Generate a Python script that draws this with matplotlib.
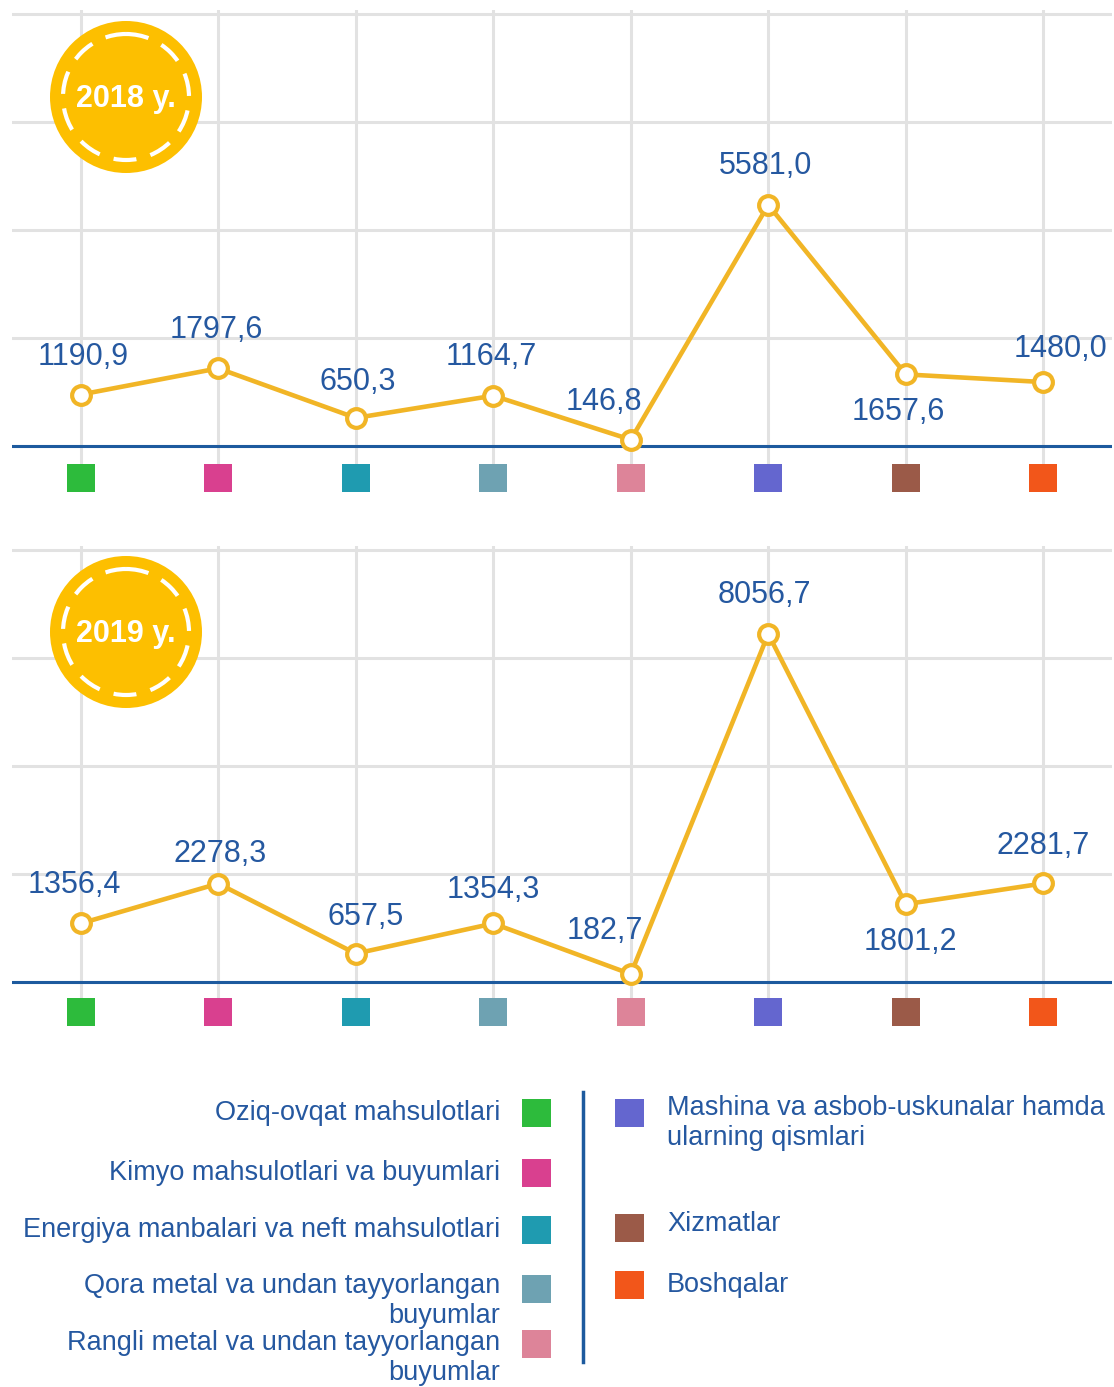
import matplotlib
matplotlib.use("Agg")
import matplotlib.pyplot as plt
from matplotlib.patches import Circle, Rectangle
from matplotlib.transforms import blended_transform_factory

plt.rcParams['font.family'] = ['Liberation Sans', 'DejaVu Sans']

# ---------------- data ----------------
categories = [
    "Oziq-ovqat mahsulotlari",
    "Kimyo mahsulotlari va buyumlari",
    "Energiya manbalari va neft mahsulotlari",
    "Qora metal va undan tayyorlangan\nbuyumlar",
    "Rangli metal va undan tayyorlangan\nbuyumlar",
    "Mashina va asbob-uskunalar hamda\nularning qismlari",
    "Xizmatlar",
    "Boshqalar",
]
cat_colors = ["#2dbb3c", "#d9408f", "#1f9bb0", "#6ea2b2", "#dd8499",
              "#6466cf", "#9b5a48", "#f2561a"]
values_2018 = [1190.9, 1797.6, 650.3, 1164.7, 146.8, 5581.0, 1657.6, 1480.0]
values_2019 = [1356.4, 2278.3, 657.5, 1354.3, 182.7, 8056.7, 1801.2, 2281.7]
years = ["2018 y.", "2019 y."]
y_ticks = [0, 2500, 5000, 7500, 10000]

# label offsets in pixels (dx, dy) for each point
offsets_2018 = [(2, 38), (-2, 38), (2, 36), (-2, 39), (-27, 38), (-3, 39), (-7, -38), (17, 33)]
offsets_2019 = [(-6, 38), (2, 30), (10, 37), (0, 33), (-26, 43), (-4, 39), (5, -38), (0, 37)]

# ---------------- styling ----------------
W, H = 1114, 1387
DPI = 100
LINE = "#f1b526"
TXT = "#2558a0"
BASE = "#1d5a9e"
GRID = "#e2e2e2"
BADGE = "#fdbf00"

fig = plt.figure(figsize=(W / DPI, H / DPI), dpi=DPI)
fig.patch.set_facecolor("white")

def px_axes(x0, y0, x1, y1):
    return fig.add_axes([x0 / W, 1 - y1 / H, (x1 - x0) / W, (y1 - y0) / H])

scale = 432 / 10000.0  # px per unit

def panel(top_px, zero_px, bottom_px, values, offsets):
    ax = px_axes(12, top_px, 1112, bottom_px)
    n = len(values)
    xs = list(range(n))
    ax.set_xlim(-0.5, n - 0.5)
    ax.set_ylim(-(bottom_px - zero_px) / scale, (zero_px - top_px) / scale)
    ax.set_xticks(xs)
    ax.set_yticks(y_ticks)
    ax.set_xticklabels([])
    ax.set_yticklabels([])
    ax.tick_params(length=0)
    for s in ax.spines.values():
        s.set_visible(False)
    ax.grid(True, color=GRID, linewidth=2.2, zorder=0)
    ax.set_axisbelow(True)
    ax.axhline(0, color=BASE, linewidth=2.2, zorder=2)
    ax.plot(xs, values, color=LINE, linewidth=3.3, zorder=3,
            marker="o", markersize=13.5, markerfacecolor="white",
            markeredgecolor=LINE, markeredgewidth=3.0, clip_on=False)
    for x, v, (dx, dy) in zip(xs, values, offsets):
        ax.annotate(f"{v:.1f}".replace(".", ","), (x, v), xytext=(dx, dy),
                    textcoords="offset pixels", ha="center", va="center",
                    fontsize=22, color=TXT, zorder=5)
    tr = blended_transform_factory(ax.transData, ax.transAxes)
    sq_y = -(14.0 / (bottom_px - top_px))
    ax.scatter(xs, [sq_y] * n, marker="s", s=20 ** 2, c=cat_colors,
               transform=tr, clip_on=False, zorder=4, linewidths=0)
    return ax

panel(10, 446, 464, values_2018, offsets_2018)
panel(546, 982, 998, values_2019, offsets_2019)

# overlay in pixel coordinates
ov = fig.add_axes([0, 0, 1, 1])
ov.set_xlim(0, W)
ov.set_ylim(H, 0)
ov.axis("off")
ov.patch.set_alpha(0)

for (cx, cy), label in zip([(126, 97), (126, 632)], years):
    ov.add_patch(Circle((cx, cy), 76, facecolor=BADGE, edgecolor="none", zorder=6))
    ov.add_patch(Circle((cx, cy), 63, facecolor="none", edgecolor="white",
                        linewidth=3, linestyle=(0, (5.5, 3.5)), zorder=7))
    ov.text(cx, cy + 2, label, ha="center", va="center", color="white",
            fontsize=22, fontweight="bold", zorder=8)

# legend
left_y = [1113, 1173, 1230, 1301, 1358]
left_sq_y = [1113, 1173, 1230, 1289, 1344]
for i in range(5):
    ov.text(500, left_y[i], categories[i], ha="right", va="center",
            fontsize=19.5, color=TXT, multialignment="right", linespacing=1.2)
    ov.add_patch(Rectangle((522, left_sq_y[i] - 14), 29, 28, facecolor=cat_colors[i],
                           edgecolor="none"))
ov.plot([583, 583], [1092, 1362], color=BASE, linewidth=2.5)
right_y = [1123, 1224, 1285]
right_sq_y = [1113, 1228, 1285]
for j, i in enumerate(range(5, 8)):
    ov.text(667, right_y[j], categories[i], ha="left", va="center",
            fontsize=19.5, color=TXT, linespacing=1.2)
    ov.add_patch(Rectangle((615, right_sq_y[j] - 14), 29, 28, facecolor=cat_colors[i],
                           edgecolor="none"))

fig.savefig("out.png", dpi=DPI, facecolor="white")
